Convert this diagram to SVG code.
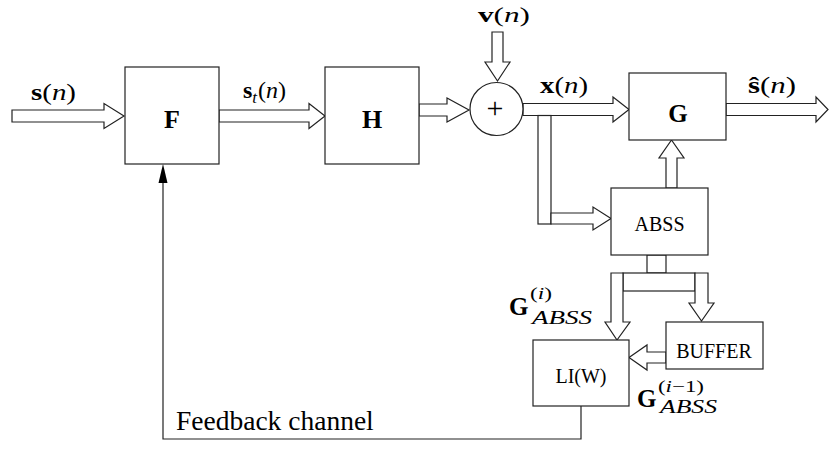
<svg xmlns="http://www.w3.org/2000/svg" width="829" height="454" viewBox="0 0 829 454">
<style>
.b{fill:#fff;stroke:#222;stroke-width:1.2}
.a{fill:#fff;stroke:#222;stroke-width:1.2;stroke-linejoin:miter}
.l{fill:none;stroke:#222;stroke-width:1.2}
.t{font-family:"Liberation Serif","DejaVu Serif",serif;fill:#000}
.bf{font-weight:bold}
.it{font-style:italic}
</style>
<rect width="829" height="454" fill="#fff"/>
<g id="connectors">
  <polygon class="a" points="12,110 104,110 104,103.5 124,116 104,128.5 104,122 12,122"/>
  <polygon class="a" points="219,110 309,110 309,103.5 325,116 309,128.5 309,122 219,122"/>
  <polygon class="a" points="419,104 447,104 447,98 469,110 447,122 447,116 419,116"/>
  <polygon class="a" points="492,32 503,32 503,62 510,62 497.5,81 485,62 492,62"/>
  <polygon class="a" points="523,103.5 613,103.5 613,97 629,109.5 613,122 613,115.5 523,115.5"/>
  <polygon class="a" points="726,103.5 816,103.5 816,97 828,109.5 816,122 816,115.5 726,115.5"/>
  <rect class="a" x="538" y="115.5" width="13" height="108.5"/>
  <polygon class="a" points="551,213 593,213 593,207 611,218.5 593,230 593,224 551,224"/>
  <polygon class="a" points="666,188 666,158 659,158 671.5,140 684,158 677,158 677,188"/>
  <rect class="a" x="647" y="255" width="19" height="18"/>
  <rect class="a" x="623" y="273" width="72" height="18"/>
  <polygon class="a" points="611,273 623,273 623,322 630,322 617,340 605,322 611,322"/>
  <polygon class="a" points="695,273 708,273 708,303 714,303 701.5,321 689,303 695,303"/>
  <polygon class="a" points="666,352 647,352 647,345 629,357.5 647,370 647,363 666,363"/>
  <polyline class="l" points="581,406 581,439 163,439 163,182"/>
  <polygon fill="#000" points="163,164 158.5,183 167.5,183"/>
</g>
<g id="F">
  <rect class="b" x="125" y="67" width="94" height="97"/>
  <text class="t bf" x="172" y="128" font-size="26" text-anchor="middle">F</text>
</g>
<g id="H">
  <rect class="b" x="325" y="67" width="94" height="97"/>
  <text class="t bf" x="372" y="128" font-size="26" text-anchor="middle">H</text>
</g>
<g id="sum">
  <circle class="b" cx="496.5" cy="109" r="26.5"/>
  <text class="t" x="495" y="118" font-size="30" text-anchor="middle">+</text>
</g>
<g id="G">
  <rect class="b" x="629" y="73" width="97" height="67"/>
  <text class="t bf" x="678" y="122" font-size="25" text-anchor="middle">G</text>
</g>
<g id="ABSS">
  <rect class="b" x="611" y="188" width="97" height="67"/>
  <text class="t" x="659.5" y="231" font-size="20" text-anchor="middle">ABSS</text>
</g>
<g id="BUFFER">
  <rect class="b" x="666" y="322" width="97" height="47"/>
  <text class="t" x="714" y="358" font-size="20" text-anchor="middle">BUFFER</text>
</g>
<g id="LIW">
  <rect class="b" x="533" y="340" width="96" height="66"/>
  <text class="t" x="581" y="383" font-size="20" text-anchor="middle">LI(W)</text>
</g>
<g id="labels">
  <text class="t" x="31" y="100" font-size="24" textLength="45" lengthAdjust="spacingAndGlyphs"><tspan class="bf">s</tspan>(<tspan class="it">n</tspan>)</text>
  <text class="t" x="243" y="98" font-size="24"><tspan class="bf">s</tspan><tspan class="it" font-size="17" dy="5">t</tspan><tspan dy="-5" dx="1">(</tspan><tspan class="it">n</tspan>)</text>
  <text class="t" x="540" y="93" font-size="24" textLength="48" lengthAdjust="spacingAndGlyphs"><tspan class="bf">x</tspan>(<tspan class="it">n</tspan>)</text>
  <text class="t" x="748" y="93" font-size="24" textLength="48" lengthAdjust="spacingAndGlyphs"><tspan class="bf">ŝ</tspan>(<tspan class="it">n</tspan>)</text>
  <text class="t" x="478" y="22" font-size="22" textLength="52" lengthAdjust="spacingAndGlyphs"><tspan class="bf">v</tspan>(<tspan class="it">n</tspan>)</text>
  <text class="t bf" x="509" y="315" font-size="25">G</text>
  <text class="t" x="530" y="299" font-size="17" textLength="22" lengthAdjust="spacingAndGlyphs">(<tspan class="it">i</tspan>)</text>
  <text class="t it" x="532" y="324" font-size="18" textLength="60" lengthAdjust="spacingAndGlyphs">ABSS</text>
  <text class="t bf" x="637" y="407" font-size="25">G</text>
  <text class="t" x="658" y="392" font-size="17" textLength="46" lengthAdjust="spacingAndGlyphs">(<tspan class="it">i</tspan>−1)</text>
  <text class="t it" x="660" y="413" font-size="18" textLength="57" lengthAdjust="spacingAndGlyphs">ABSS</text>
  <text class="t" x="176" y="430" font-size="27.5">Feedback channel</text>
</g>
</svg>
